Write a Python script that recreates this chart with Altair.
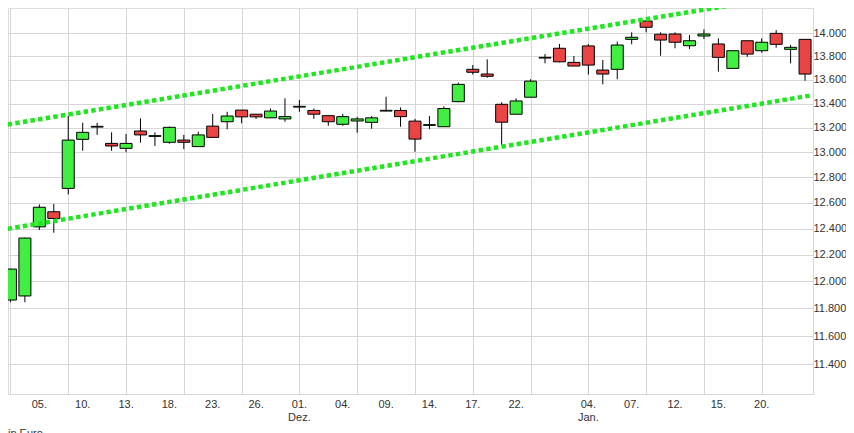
import altair as alt
import pandas as pd

# ---- data (DAX daily candles, Nov 2020 - Jan 2021) ----
dates = [
    "2020-11-02", "2020-11-03", "2020-11-04", "2020-11-05", "2020-11-06",
    "2020-11-09", "2020-11-10", "2020-11-11", "2020-11-12", "2020-11-13",
    "2020-11-16", "2020-11-17", "2020-11-18", "2020-11-19", "2020-11-20",
    "2020-11-23", "2020-11-24", "2020-11-25", "2020-11-26", "2020-11-27",
    "2020-11-30",
    "2020-12-01", "2020-12-02", "2020-12-03", "2020-12-04", "2020-12-07",
    "2020-12-08", "2020-12-09", "2020-12-10", "2020-12-11", "2020-12-14",
    "2020-12-15", "2020-12-16", "2020-12-17", "2020-12-18", "2020-12-21",
    "2020-12-22", "2020-12-23", "2020-12-28", "2020-12-29", "2020-12-30",
    "2021-01-04", "2021-01-05", "2021-01-06", "2021-01-07", "2021-01-08",
    "2021-01-11", "2021-01-12", "2021-01-13", "2021-01-14", "2021-01-15",
    "2021-01-18", "2021-01-19", "2021-01-20", "2021-01-21", "2021-01-22",
    "2021-01-25",
]
opens = [11592, 11862, 11892, 12413, 12530, 12713, 13106, 13206, 13073, 13033,
         13174, 13130, 13082, 13100, 13047, 13214, 13250, 13346, 13312, 13282,
         13273, 13371, 13343, 13300, 13229, 13256, 13245, 13338, 13343, 13255,
         13220, 13209, 13416, 13688, 13648, 13394, 13312, 13453, 13784, 13868,
         13747, 13888, 13682, 13688, 13945, 14105, 13989, 13991, 13890, 13974,
         13905, 13696, 13933, 13847, 13997, 13859, 13945]
highs = [11800, 12095, 12330, 12587, 12590, 13297, 13241, 13241, 13163, 13149,
         13278, 13163, 13210, 13142, 13168, 13314, 13332, 13346, 13312, 13359,
         13444, 13431, 13359, 13300, 13314, 13290, 13297, 13457, 13368, 13273,
         13297, 13377, 13575, 13724, 13773, 13411, 13444, 13604, 13818, 13905,
         13802, 13905, 13768, 13925, 14006, 14110, 14006, 14006, 13983, 14032,
         13954, 13850, 13933, 13954, 14026, 13896, 13945]
lows = [11560, 11846, 11846, 12389, 12368, 12666, 13013, 13142, 13013, 13001,
        13079, 13052, 13070, 13027, 13047, 13122, 13188, 13237, 13273, 13282,
        13250, 13332, 13273, 13217, 13217, 13160, 13193, 13336, 13209, 13006,
        13188, 13209, 13411, 13644, 13617, 13059, 13312, 13453, 13739, 13747,
        13716, 13644, 13561, 13604, 13902, 14006, 13804, 13868, 13862, 13948,
        13668, 13696, 13795, 13830, 13873, 13739, 13591]
closes = [11788, 12092, 12327, 12565, 12478, 13100, 13163, 13212, 13052, 13073,
          13142, 13136, 13204, 13082, 13142, 13122, 13297, 13290, 13290, 13338,
          13292, 13377, 13312, 13250, 13292, 13273, 13282, 13344, 13292, 13108,
          13226, 13359, 13561, 13663, 13629, 13246, 13422, 13588, 13790, 13752,
          13716, 13724, 13648, 13896, 13963, 14050, 13939, 13920, 13933, 13991,
          13790, 13847, 13818, 13920, 13902, 13876, 13648]

# trend channel (two dotted lines), endpoints in trading-day index / price
trend_x = [0.28, 56.55]
upper_trend = [13217, 14364]
lower_trend = [12389, 13471]

y_ticks = [11400, 11600, 11800, 12000, 12200, 12400, 12600, 12800,
           13000, 13200, 13400, 13600, 13800, 14000]
day_label_idx = [0, 3, 6, 9, 12, 15, 18, 21, 24, 27, 30, 33, 36,
                 41, 44, 47, 50, 53]
month_label_idx = [0, 21, 41]
month_label_text = ["Nov.", "Dez.", "Jan."]

# ---- build tables ----
n = len(dates)
candles = pd.DataFrame({
    "idx": list(range(n)), "date": dates,
    "open": opens, "high": highs, "low": lows, "close": closes,
})
trend = pd.DataFrame({
    "idx": trend_x + trend_x,
    "value": upper_trend + lower_trend,
    "series": ["upper", "upper", "lower", "lower"],
})
day_labels = pd.DataFrame({
    "idx": day_label_idx,
    "text": [dates[i][8:10] + "." for i in day_label_idx],
})
month_labels = pd.DataFrame({"idx": month_label_idx, "text": month_label_text})

GREEN = "#42ee42"
RED = "#ea4444"
LINE_GREEN = "#22e622"
GRID = "#d6d6d6"
FONT = "Liberation Sans"
TEXT = "#333333"

W, H = 805, 386
x_scale = alt.Scale(domain=[0.83, 56.55], nice=False, zero=False, padding=0)
y_scale = alt.Scale(type="log", domain=[11190, 14219], nice=False, zero=False)

x_axis = alt.Axis(
    values=list(range(n)), labels=False, grid=True, gridColor=GRID,
    ticks=False, domain=True, domainColor=GRID, title=None,
)
y_axis = alt.Axis(
    orient="right", values=y_ticks,
    labelExpr="replace(format(datum.value, ','), ',', '.')",
    grid=True, gridColor=GRID, ticks=False, domain=True, domainColor=GRID,
    title=None, labelFont=FONT, labelFontSize=11, labelColor=TEXT,
    labelPadding=0, labelFlush=False, labelOverlap=False,
)

base = alt.Chart(candles)

wicks = base.mark_rule(color="black", strokeWidth=1, clip=True).encode(
    x=alt.X("idx:Q", scale=x_scale, axis=x_axis),
    y=alt.Y("low:Q", scale=y_scale, axis=y_axis),
    y2="high:Q",
)

bodies = base.mark_bar(size=12, stroke="black", strokeWidth=1, clip=True).encode(
    x=alt.X("idx:Q", scale=x_scale),
    y=alt.Y("open:Q", scale=y_scale),
    y2="close:Q",
    color=alt.condition("datum.close >= datum.open", alt.value(GREEN), alt.value(RED)),
)

trend_lines = alt.Chart(trend).mark_line(
    strokeWidth=4.5, strokeDash=[4.5, 3.2], strokeCap="butt", clip=True,
    color=LINE_GREEN,
).encode(
    x=alt.X("idx:Q", scale=x_scale),
    y=alt.Y("value:Q", scale=y_scale),
    detail="series:N",
)

day_text = alt.Chart(day_labels).mark_text(
    align="center", baseline="top", font=FONT, fontSize=11, color=TEXT,
).encode(x=alt.X("idx:Q", scale=x_scale), y=alt.value(H + 4.5), text="text:N")

month_text = alt.Chart(month_labels).mark_text(
    align="center", baseline="top", font=FONT, fontSize=11, color=TEXT,
).encode(x=alt.X("idx:Q", scale=x_scale), y=alt.value(H + 17.5), text="text:N")

caption = alt.Chart(pd.DataFrame({"t": ["in Euro"]})).mark_text(
    align="left", baseline="top", font=FONT, fontSize=11, color=TEXT,
).encode(x=alt.value(0), y=alt.value(H + 34), text="t:N")

chart = alt.layer(wicks, bodies, trend_lines, day_text, month_text, caption).properties(
    width=W, height=H,
    autosize=alt.AutoSizeParams(type="none"),
    padding={"left": 0, "top": 0, "right": 33, "bottom": 40},
).configure_view(stroke=None).configure(background="white")

chart.save("out.html", embed_options={"renderer": "svg", "actions": False})
